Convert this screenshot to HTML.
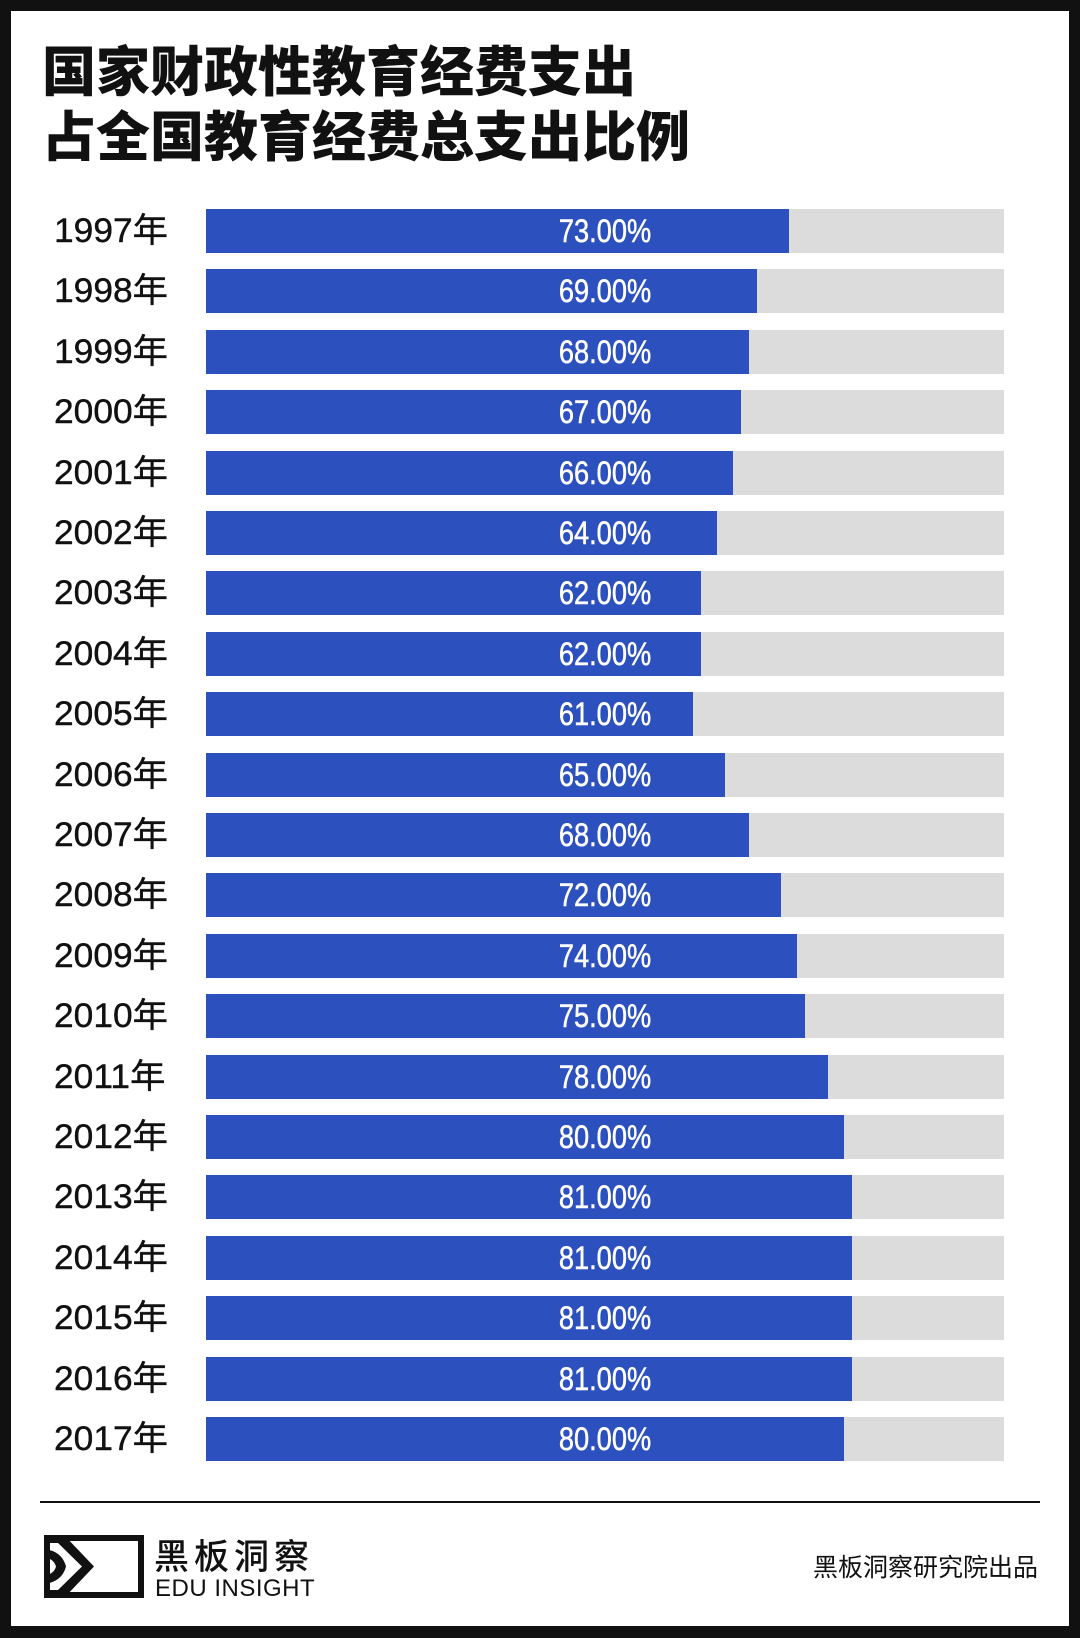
<!DOCTYPE html>
<html><head><meta charset="utf-8"><style>
body{margin:0;width:1080px;height:1638px;background:#111;position:relative;overflow:hidden;font-family:"Liberation Sans","Noto Sans CJK SC",sans-serif}
.panel{position:absolute;left:11px;top:11px;width:1058px;height:1615px;background:#fff}
.t{position:absolute;left:42px;font-family:"Noto Sans CJK SC",sans-serif;font-weight:900;font-size:54px;line-height:1;color:#111}
.row{position:absolute;left:0;width:1080px;height:44px}
.yr{position:absolute;left:54px;top:0;line-height:44px;font-size:34px;color:#111;font-family:"Liberation Sans","Noto Sans CJK SC",sans-serif;transform:scaleX(1.04);transform-origin:left;-webkit-text-stroke:0.4px #111}
.bg{position:absolute;left:206px;top:0;width:798px;height:44px;background:#dcdcdc}
.bar{position:absolute;left:206px;top:0;height:44px;background:#2c51bf}
.pc{position:absolute;left:206px;width:798px;top:0;line-height:44px;text-align:center;color:#fff;font-size:32px;transform:scaleX(0.85);-webkit-text-stroke:0.5px #fff}
</style></head><body>
<div class="panel"></div>
<div class="t" style="top:41px">国家财政性教育经费支出</div>
<div class="t" style="top:106px">占全国教育经费总支出比例</div>
<div class="row" style="top:209px"><div class="yr">1997年</div><div class="bg"></div><div class="bar" style="width:583px"></div><div class="pc">73.00%</div></div>
<div class="row" style="top:269px"><div class="yr">1998年</div><div class="bg"></div><div class="bar" style="width:551px"></div><div class="pc">69.00%</div></div>
<div class="row" style="top:330px"><div class="yr">1999年</div><div class="bg"></div><div class="bar" style="width:543px"></div><div class="pc">68.00%</div></div>
<div class="row" style="top:390px"><div class="yr">2000年</div><div class="bg"></div><div class="bar" style="width:535px"></div><div class="pc">67.00%</div></div>
<div class="row" style="top:451px"><div class="yr">2001年</div><div class="bg"></div><div class="bar" style="width:527px"></div><div class="pc">66.00%</div></div>
<div class="row" style="top:511px"><div class="yr">2002年</div><div class="bg"></div><div class="bar" style="width:511px"></div><div class="pc">64.00%</div></div>
<div class="row" style="top:571px"><div class="yr">2003年</div><div class="bg"></div><div class="bar" style="width:495px"></div><div class="pc">62.00%</div></div>
<div class="row" style="top:632px"><div class="yr">2004年</div><div class="bg"></div><div class="bar" style="width:495px"></div><div class="pc">62.00%</div></div>
<div class="row" style="top:692px"><div class="yr">2005年</div><div class="bg"></div><div class="bar" style="width:487px"></div><div class="pc">61.00%</div></div>
<div class="row" style="top:753px"><div class="yr">2006年</div><div class="bg"></div><div class="bar" style="width:519px"></div><div class="pc">65.00%</div></div>
<div class="row" style="top:813px"><div class="yr">2007年</div><div class="bg"></div><div class="bar" style="width:543px"></div><div class="pc">68.00%</div></div>
<div class="row" style="top:873px"><div class="yr">2008年</div><div class="bg"></div><div class="bar" style="width:575px"></div><div class="pc">72.00%</div></div>
<div class="row" style="top:934px"><div class="yr">2009年</div><div class="bg"></div><div class="bar" style="width:591px"></div><div class="pc">74.00%</div></div>
<div class="row" style="top:994px"><div class="yr">2010年</div><div class="bg"></div><div class="bar" style="width:599px"></div><div class="pc">75.00%</div></div>
<div class="row" style="top:1055px"><div class="yr">2011年</div><div class="bg"></div><div class="bar" style="width:622px"></div><div class="pc">78.00%</div></div>
<div class="row" style="top:1115px"><div class="yr">2012年</div><div class="bg"></div><div class="bar" style="width:638px"></div><div class="pc">80.00%</div></div>
<div class="row" style="top:1175px"><div class="yr">2013年</div><div class="bg"></div><div class="bar" style="width:646px"></div><div class="pc">81.00%</div></div>
<div class="row" style="top:1236px"><div class="yr">2014年</div><div class="bg"></div><div class="bar" style="width:646px"></div><div class="pc">81.00%</div></div>
<div class="row" style="top:1296px"><div class="yr">2015年</div><div class="bg"></div><div class="bar" style="width:646px"></div><div class="pc">81.00%</div></div>
<div class="row" style="top:1357px"><div class="yr">2016年</div><div class="bg"></div><div class="bar" style="width:646px"></div><div class="pc">81.00%</div></div>
<div class="row" style="top:1417px"><div class="yr">2017年</div><div class="bg"></div><div class="bar" style="width:638px"></div><div class="pc">80.00%</div></div>
<div style="position:absolute;left:40px;top:1501px;width:1000px;height:2px;background:#111"></div>
<svg style="position:absolute;left:44px;top:1535px" width="100" height="63" viewBox="0 0 100 63">
<rect x="3" y="3" width="94" height="57" fill="none" stroke="#111" stroke-width="6"/>
<path d="M0 0 L20 0 L50 31.5 L20 63 L0 63 L0 55 L14 55 L38 31.5 L14 8 L0 8 Z" fill="#111"/>
<path d="M0 14 Q18 16 22 31.5 Q18 47 0 49 L0 41 Q10 39 12 31.5 Q10 24 0 22 Z" fill="#111"/>
</svg>
<div style="position:absolute;left:154px;top:1535px;font-size:35px;line-height:40px;letter-spacing:5px;color:#111;font-weight:500;font-family:'Noto Sans CJK SC',sans-serif">黑板洞察</div>
<div style="position:absolute;left:155px;top:1577px;font-size:24px;line-height:24px;color:#111;letter-spacing:0.5px">EDU INSIGHT</div>
<div style="position:absolute;right:42px;top:1551px;font-size:25px;line-height:30px;color:#111;font-family:'Noto Sans CJK SC',sans-serif">黑板洞察研究院出品</div>
</body></html>
